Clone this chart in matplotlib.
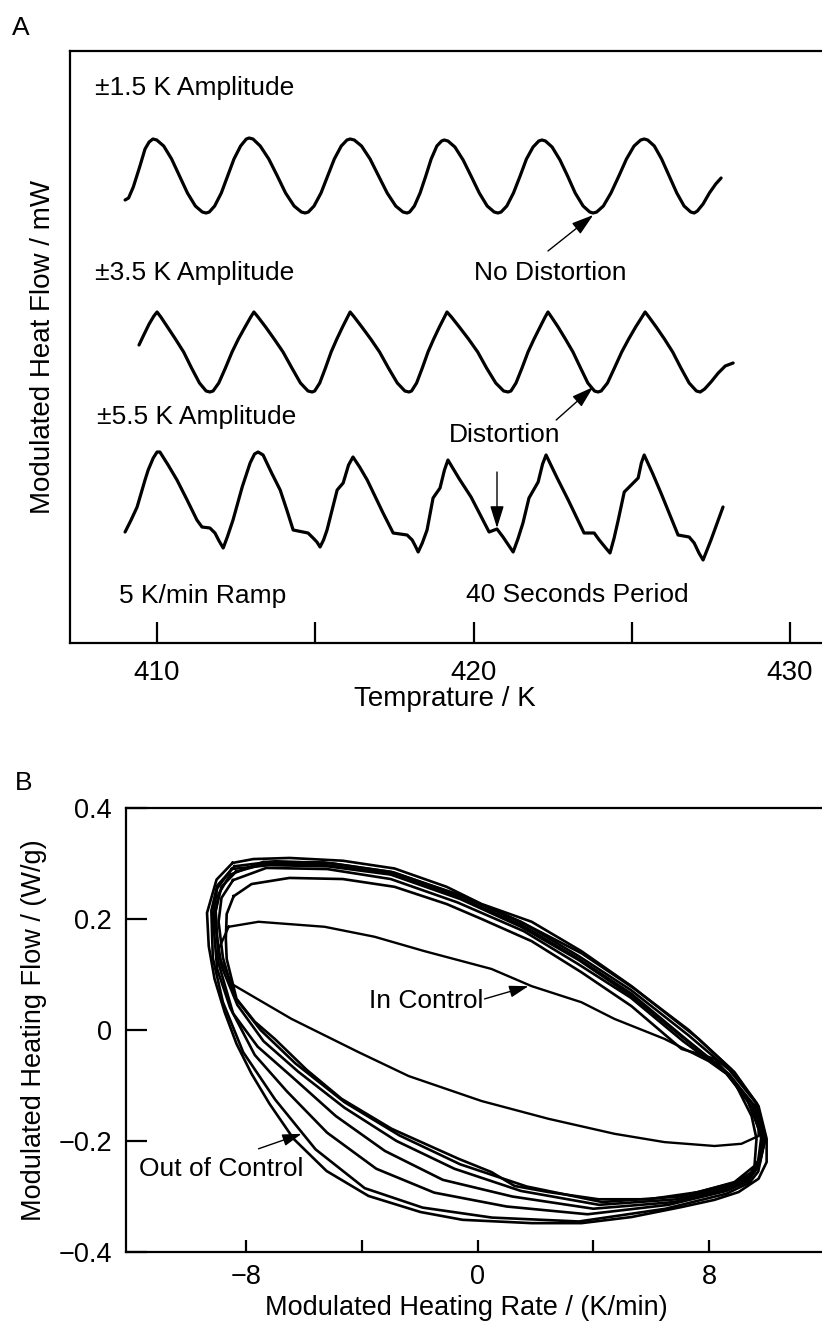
import matplotlib
matplotlib.use('Agg')
import matplotlib.pyplot as plt

plt.rcParams['font.family'] = ['Liberation Sans', 'DejaVu Sans']
plt.rcParams['axes.unicode_minus'] = True

# ---- panel A : modulated heat flow traces (T in K, flow in arbitrary units)
amp15_T = [408.99, 409.10, 409.25, 409.45, 409.62, 409.75, 409.87,
           409.99, 410.21, 410.46, 410.71, 410.96, 411.21, 411.43, 411.55,
           411.65, 411.82, 412.03, 412.23, 412.43, 412.64, 412.82, 412.91,
           413.03, 413.26, 413.53, 413.80, 414.06, 414.33, 414.56, 414.68,
           414.78, 414.96, 415.18, 415.39, 415.60, 415.82, 416.00, 416.10,
           416.23, 416.46, 416.73, 417.00, 417.27, 417.54, 417.77, 417.90,
           417.98, 418.13, 418.31, 418.49, 418.66, 418.84, 418.99, 419.07,
           419.19, 419.41, 419.67, 419.92, 420.18, 420.43, 420.65, 420.77,
           420.87, 421.05, 421.26, 421.47, 421.67, 421.88, 422.06, 422.16,
           422.27, 422.48, 422.73, 422.97, 423.21, 423.46, 423.67, 423.78,
           423.89, 424.10, 424.34, 424.59, 424.83, 425.07, 425.28, 425.39,
           425.50, 425.71, 425.94, 426.18, 426.42, 426.65, 426.86, 426.97,
           427.07, 427.25, 427.45, 427.65, 427.82]
amp15_q = [44.3, 44.5, 45.6, 47.6, 49.4, 50.1, 50.4,
           50.3, 49.7, 48.4, 46.7, 45.0, 43.7, 43.1, 43.0,
           43.1, 43.7, 45.0, 46.7, 48.4, 49.7, 50.4, 50.5,
           50.4, 49.7, 48.4, 46.7, 45.0, 43.7, 43.1, 43.0,
           43.1, 43.7, 45.0, 46.7, 48.4, 49.7, 50.3, 50.4,
           50.3, 49.7, 48.4, 46.7, 45.0, 43.7, 43.1, 43.0,
           43.1, 43.7, 45.0, 46.7, 48.4, 49.7, 50.2, 50.3,
           50.2, 49.6, 48.3, 46.7, 45.0, 43.7, 43.1, 43.0,
           43.1, 43.7, 45.0, 46.7, 48.4, 49.6, 50.2, 50.3,
           50.2, 49.6, 48.3, 46.7, 45.0, 43.7, 43.1, 43.0,
           43.1, 43.7, 45.0, 46.7, 48.4, 49.7, 50.3, 50.4,
           50.3, 49.7, 48.4, 46.7, 45.0, 43.7, 43.1, 43.0,
           43.2, 43.9, 45.0, 45.9, 46.5]

amp35_T = [409.43, 409.58, 409.75, 409.90, 410.00,
           410.12, 410.33, 410.58, 410.84, 411.09, 411.34, 411.55, 411.67,
           411.77, 411.95, 412.16, 412.37, 412.57, 412.78, 412.96, 413.06,
           413.19, 413.43, 413.70, 413.98, 414.26, 414.53, 414.77, 414.90,
           414.98, 415.14, 415.32, 415.50, 415.68, 415.86, 416.02, 416.10,
           416.23, 416.47, 416.75, 417.03, 417.31, 417.59, 417.83, 417.96,
           418.04, 418.20, 418.38, 418.56, 418.74, 418.92, 419.08, 419.16,
           419.30, 419.55, 419.84, 420.13, 420.41, 420.70, 420.95, 421.09,
           421.18, 421.34, 421.53, 421.72, 421.91, 422.10, 422.26, 422.35,
           422.46, 422.67, 422.90, 423.14, 423.38, 423.61, 423.82, 423.93,
           424.03, 424.23, 424.45, 424.68, 424.90, 425.12, 425.32, 425.42,
           425.54, 425.77, 426.03, 426.29, 426.55, 426.81, 427.04, 427.16,
           427.30, 427.50, 427.73, 427.95, 428.20]
amp35_q = [29.8, 30.8, 31.9, 32.7, 33.1,
           32.6, 31.6, 30.4, 29.1, 27.5, 26.0, 25.2, 25.1,
           25.2, 26.0, 27.5, 29.1, 30.4, 31.6, 32.6, 33.1,
           32.6, 31.6, 30.4, 29.1, 27.5, 26.0, 25.2, 25.1,
           25.2, 26.0, 27.5, 29.1, 30.4, 31.6, 32.6, 33.1,
           32.6, 31.6, 30.4, 29.1, 27.5, 26.0, 25.2, 25.1,
           25.2, 26.0, 27.5, 29.1, 30.4, 31.6, 32.6, 33.1,
           32.6, 31.6, 30.4, 29.1, 27.5, 26.0, 25.2, 25.1,
           25.2, 26.0, 27.5, 29.1, 30.4, 31.6, 32.6, 33.1,
           32.6, 31.6, 30.4, 29.1, 27.5, 26.0, 25.2, 25.1,
           25.2, 26.0, 27.5, 29.1, 30.4, 31.6, 32.6, 33.1,
           32.6, 31.6, 30.4, 29.1, 27.5, 26.0, 25.2, 25.1,
           25.4, 26.1, 27.0, 27.7, 28.0]

amp55_T = [408.99, 409.18, 409.37, 409.62, 409.72, 409.88, 410.00,
           410.09, 410.35, 410.63, 410.95, 411.26, 411.42, 411.67, 411.83, 411.96, 412.09,
           412.22, 412.40, 412.69, 412.94, 413.08, 413.19,
           413.35, 413.62, 413.89, 414.10, 414.30, 414.77, 414.93, 415.05, 415.15,
           415.26, 415.37, 415.69, 415.88, 416.05, 416.19,
           416.40, 416.64, 417.14, 417.46, 417.90, 418.06, 418.16, 418.25,
           418.38, 418.53, 418.72, 418.94, 419.08, 419.19,
           419.55, 419.92, 420.49, 420.74, 420.93, 421.10, 421.25,
           421.40, 421.56, 421.75, 422.04, 422.18, 422.29,
           422.64, 422.99, 423.49, 423.81, 423.97, 424.15, 424.31,
           424.44, 424.57, 424.76, 425.20, 425.30, 425.39,
           425.65, 425.92, 426.46, 426.81, 426.97, 427.12, 427.25,
           427.50, 427.88]
amp55_q = [11.1, 12.3, 13.6, 16.3, 17.3, 18.5, 19.1,
           19.1, 17.8, 16.3, 14.3, 12.3, 11.6, 11.5, 11.0, 10.2, 9.5,
           10.6, 12.3, 15.6, 18.0, 18.9, 19.1,
           18.8, 17.0, 15.3, 13.3, 11.3, 11.0, 10.5, 10.1, 9.6,
           10.3, 11.3, 15.3, 16.0, 17.8, 18.6,
           17.6, 16.3, 13.0, 11.0, 10.8, 10.3, 9.7, 9.1,
           10.0, 11.3, 14.5, 15.5, 17.3, 18.3,
           16.4, 14.6, 11.1, 11.4, 10.6, 9.8, 9.1,
           10.4, 12.0, 14.5, 16.1, 17.9, 18.8,
           16.5, 14.3, 11.0, 11.0, 10.3, 9.6, 9.0,
           10.5, 12.3, 15.1, 16.5, 18.0, 18.8,
           17.0, 15.0, 10.8, 10.6, 10.0, 9.0, 8.3,
           10.3, 13.6]

A_major = [410, 420, 430]
A_minor = [415, 425]

# ---- panel B : Lissajous loops (heating rate K/min vs heat flow W/g)
out1_x = [-8.47, -9.02, -9.35, -9.29, -9.09, -8.74, -8.33, -7.81, -7.19, -6.36, -5.22, -3.77,
          -1.97, -0.52, 1.87, 3.59, 5.32, 7.05, 8.19, 9.02, 9.71, 9.99, 9.99, 9.71, 8.88,
          7.64, 5.32, 3.59, 1.87, 0.14, -1.07, -2.87, -4.66, -6.50, -7.75, -8.47]
out1_y = [0.301, 0.271, 0.211, 0.151, 0.092, 0.032, -0.025, -0.079, -0.133, -0.196, -0.254,
          -0.299, -0.328, -0.342, -0.348, -0.348, -0.337, -0.319, -0.306, -0.292, -0.268,
          -0.238, -0.196, -0.137, -0.076, -0.016, 0.079, 0.142, 0.195, 0.227, 0.258, 0.291,
          0.305, 0.310, 0.308, 0.301]
out2_x = [-8.40, -9.00, -9.20, -9.15, -8.80, -8.10, -7.00, -5.60, -3.90, -1.90, 0.50, 3.50,
          6.50, 8.60, 9.40, 9.70, 9.92, 9.60, 8.70, 7.30, 5.30, 3.50, 1.50, -0.50, -2.90,
          -5.00, -7.00, -8.40]
out2_y = [0.295, 0.260, 0.215, 0.130, 0.050, -0.040, -0.125, -0.215, -0.285, -0.320, -0.338,
          -0.345, -0.322, -0.295, -0.275, -0.255, -0.200, -0.130, -0.072, -0.010, 0.072,
          0.133, 0.195, 0.240, 0.284, 0.300, 0.304, 0.295]
out3_x = [-8.50, -9.00, -9.15, -9.00, -8.55, -7.70, -6.60, -5.20, -3.50, -1.50, 1.00, 3.80,
          6.60, 8.60, 9.35, 9.65, 9.85, 9.55, 8.60, 7.20, 5.30, 3.50, 1.50, -0.60, -3.00,
          -5.20, -7.20, -8.50]
out3_y = [0.290, 0.255, 0.205, 0.110, 0.040, -0.045, -0.110, -0.185, -0.250, -0.293, -0.318,
          -0.332, -0.315, -0.290, -0.272, -0.250, -0.200, -0.135, -0.076, -0.018, 0.062,
          0.126, 0.186, 0.236, 0.280, 0.295, 0.297, 0.290]
out4_x = [-8.35, -8.85, -9.05, -8.95, -8.45, -7.60, -6.40, -4.90, -3.20, -1.20, 1.20, 4.00,
          6.80, 8.70, 9.40, 9.70, 9.90, 9.60, 8.70, 7.10, 5.30, 3.50, 1.50, -0.70, -3.10,
          -5.40, -7.30, -8.35]
out4_y = [0.285, 0.258, 0.215, 0.120, 0.030, -0.030, -0.085, -0.155, -0.218, -0.270, -0.300,
          -0.322, -0.310, -0.285, -0.267, -0.245, -0.205, -0.140, -0.080, -0.012, 0.066,
          0.128, 0.190, 0.240, 0.283, 0.298, 0.300, 0.285]
out5_x = [-8.55, -8.95, -9.10, -8.85, -8.30, -7.40, -6.20, -4.60, -2.80, -0.80, 1.50, 4.20,
          6.90, 8.80, 9.45, 9.75, 9.95, 9.65, 8.75, 7.30, 5.40, 3.60, 1.60, -0.60, -3.00,
          -5.30, -7.40, -8.55]
out5_y = [0.280, 0.245, 0.200, 0.115, 0.045, -0.020, -0.075, -0.140, -0.200, -0.250, -0.290,
          -0.315, -0.305, -0.280, -0.262, -0.240, -0.195, -0.132, -0.070, 0.000, 0.075,
          0.138, 0.192, 0.243, 0.285, 0.302, 0.303, 0.280]
out6_x = [-8.45, -8.85, -8.95, -8.80, -8.40, -7.50, -6.30, -4.60, -2.70, -0.60, 1.70, 4.30,
          7.00, 8.90, 9.45, 9.70, 9.80, 9.50, 8.60, 7.10, 5.30, 3.50, 1.60, -0.70, -3.00,
          -5.20, -7.30, -8.45]
out6_y = [0.270, 0.238, 0.195, 0.130, 0.060, 0.000, -0.060, -0.130, -0.190, -0.242, -0.282,
          -0.310, -0.300, -0.275, -0.257, -0.235, -0.195, -0.140, -0.078, -0.020, 0.058,
          0.118, 0.178, 0.230, 0.272, 0.290, 0.292, 0.270]
out7_x = [-8.43, -8.67, -8.70, -8.67, -8.33, -7.70, -7.01, -5.90, -4.70, -2.97, -0.66, 0.48,
          1.28, 2.45, 4.18, 5.91, 7.64, 8.88, 9.57, 9.64, 9.47, 8.88, 8.19, 7.05, 5.32, 3.59,
          1.87, 0.14, -1.07, -2.87, -4.66, -6.50, -7.81, -8.43]
out7_y = [0.241, 0.209, 0.164, 0.128, 0.056, 0.015, -0.016, -0.072, -0.124, -0.178, -0.232,
          -0.256, -0.281, -0.292, -0.305, -0.305, -0.292, -0.274, -0.245, -0.196, -0.155,
          -0.094, -0.052, -0.034, 0.043, 0.104, 0.160, 0.200, 0.227, 0.258, 0.272, 0.274,
          0.263, 0.241]

inctl_x = [-8.60, -7.57, -5.29, -3.56, -1.83, 0.48, 1.87, 3.59, 4.73, 6.46, 7.98, 8.60, 9.30,
           9.71, 9.71, 9.12, 8.19, 6.46, 4.73, 2.45, 0.14, -2.38, -4.11, -6.43, -8.50, -9.00,
           -8.60]
inctl_y = [0.186, 0.195, 0.186, 0.168, 0.142, 0.110, 0.079, 0.050, 0.020, -0.016, -0.056,
           -0.079, -0.124, -0.178, -0.191, -0.205, -0.209, -0.202, -0.187, -0.160, -0.128,
           -0.083, -0.040, 0.020, 0.083, 0.140, 0.186]

B_xmajor = [-8, 0, 8]
B_xlabels = ['\u22128', '0', '8']
B_xminor = [-4, 4]
B_yticks = [-0.4, -0.2, 0, 0.2, 0.4]
B_ylabels = ['\u22120.4', '\u22120.2', '0', '0.2', '0.4']

FS = 19
W, H = 822, 1321
fig = plt.figure(figsize=(W / 100, H / 100), dpi=100)

# ---------------- A
axA = fig.add_axes([70 / W, 1 - 643 / H, 760 / W, 592 / H])
for tr_T, tr_q in [(amp15_T, amp15_q), (amp35_T, amp35_q), (amp55_T, amp55_q)]:
    axA.plot(tr_T, tr_q, color='black', lw=2.3, solid_joinstyle='round',
             solid_capstyle='round')
axA.set_xlim(407.25, 431.26)
axA.set_ylim(0, 59.2)
axA.set_xticks(A_major)
axA.set_xticks(A_minor, minor=True)
axA.set_yticks([])
axA.tick_params(axis='x', which='both', direction='in', length=15, width=1.6,
                pad=12, labelsize=FS + 1)
for s in axA.spines.values():
    s.set_linewidth(1.6)
axA.set_xlabel('Temprature / K', fontsize=FS + 1)
axA.xaxis.set_label_coords(0.493, -0.095)
axA.xaxis.label.set_va('center')
axA.set_ylabel('Modulated Heat Flow / mW', fontsize=FS + 1)
axA.yaxis.set_label_coords(-0.036, 0.5)
axA.yaxis.label.set_va('center')

axA.text(408.04, 55.5, '\u00b11.5 K Amplitude', fontsize=FS, va='center', ha='left')
axA.text(408.04, 37.0, '\u00b13.5 K Amplitude', fontsize=FS, va='center', ha='left')
axA.text(408.10, 22.6, '\u00b15.5 K Amplitude', fontsize=FS, va='center', ha='left')
axA.text(422.42, 37.0, 'No Distortion', fontsize=FS, va='center', ha='center')
axA.text(420.98, 20.8, 'Distortion', fontsize=FS, va='center', ha='center')
axA.text(411.44, 4.7, '5 K/min Ramp', fontsize=FS, va='center', ha='center')
axA.text(423.27, 4.8, '40 Seconds Period', fontsize=FS, va='center', ha='center')

arr = dict(arrowstyle='-|>,head_length=0.9,head_width=0.28', color='black', lw=1.0,
           mutation_scale=15, shrinkA=0, shrinkB=0)
axA.annotate('', xy=(423.78, 42.8), xytext=(422.35, 39.2), arrowprops=arr)
axA.annotate('', xy=(423.78, 25.6), xytext=(422.61, 22.3), arrowprops=arr)
axA.annotate('', xy=(420.74, 11.5), xytext=(420.74, 17.1), arrowprops=arr)

fig.text(21 / W, 1 - 28 / H, 'A', fontsize=FS, ha='center', va='center')

# ---------------- B
axB = fig.add_axes([126 / W, 1 - 1252 / H, 704 / W, 444 / H])
loops = [(out1_x, out1_y), (out2_x, out2_y), (out3_x, out3_y), (out4_x, out4_y),
         (out5_x, out5_y), (out6_x, out6_y), (out7_x, out7_y)]
for lx, ly in loops:
    axB.plot(lx, ly, color='black', lw=1.9, solid_joinstyle='round')
axB.plot(inctl_x, inctl_y, color='black', lw=1.7, solid_joinstyle='round')
axB.set_xlim(-12.15, 12.18)
axB.set_ylim(-0.4, 0.4)
axB.set_xticks(B_xmajor)
axB.set_xticklabels(B_xlabels)
axB.set_xticks(B_xminor, minor=True)
axB.set_yticks(B_yticks)
axB.set_yticklabels(B_ylabels)
axB.tick_params(axis='x', which='both', direction='in', length=9, width=1.6,
                pad=9, labelsize=FS + 0.5)
axB.tick_params(axis='y', direction='in', length=15, width=1.6, pad=10, labelsize=FS + 0.5)
for s in axB.spines.values():
    s.set_linewidth(1.6)
axB.set_xlabel('Modulated Heating Rate / (K/min)', fontsize=FS + 0.5)
axB.xaxis.set_label_coords(0.484, -0.126)
axB.xaxis.label.set_va('center')
axB.set_ylabel('Modulated Heating Flow / (W/g)', fontsize=FS + 0.5)
axB.yaxis.set_label_coords(-0.1307, 0.5)
axB.yaxis.label.set_va('center')

axB.text(0.2, 0.052, 'In Control', fontsize=FS, ha='right', va='center')
axB.text(-11.70, -0.250, 'Out of Control', fontsize=FS, ha='left', va='center')
arrB = dict(arrowstyle='-|>,head_length=0.9,head_width=0.28', color='black', lw=1.0,
            mutation_scale=13, shrinkA=0, shrinkB=0)
axB.annotate('', xy=(1.76, 0.079), xytext=(0.24, 0.056), arrowprops=arrB)
axB.annotate('', xy=(-6.08, -0.187), xytext=(-7.57, -0.214), arrowprops=arrB)

fig.text(24 / W, 1 - 783 / H, 'B', fontsize=FS, ha='center', va='center')

fig.savefig('out.png', dpi=100)
